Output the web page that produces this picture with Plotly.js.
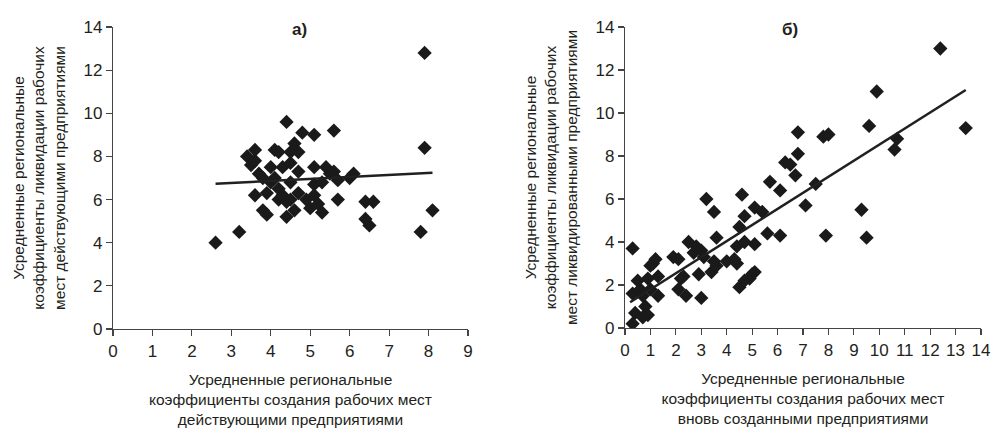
<!DOCTYPE html>
<html><head><meta charset="utf-8">
<script src="https://cdn.plot.ly/plotly-3.0.1.min.js"></script>
<style>body{margin:0;background:#fff}#c{width:992px;height:428px}</style>
</head><body><div id="c"></div>
<script>
// Panel a)
const aX = [2.6,3.2,3.4,3.5,3.6,3.6,3.6,3.7,3.8,3.9,3.8,3.9,4.0,4.0,4.1,4.2,4.1,4.2,4.2,4.3,4.3,4.4,4.4,4.4,4.5,4.5,4.5,4.5,4.6,4.6,4.7,4.7,4.7,4.8,4.9,5.0,5.1,5.1,5.1,5.1,5.2,5.3,5.3,5.4,5.5,5.6,5.6,5.7,5.7,6.0,6.1,6.4,6.4,6.5,6.6,7.8,7.9,7.9,8.1];
const aY = [4.0,4.5,8.0,7.6,8.3,7.8,6.2,7.2,5.5,5.3,7.0,6.3,7.5,6.8,8.3,8.2,7.0,6.5,6.0,7.5,6.2,9.6,5.9,5.2,8.2,7.7,6.8,6.0,8.6,5.5,8.2,7.3,6.3,9.1,6.0,5.6,9.0,7.5,6.7,6.2,5.8,5.4,6.8,7.5,7.2,9.2,7.3,6.0,6.9,7.0,7.2,5.9,5.1,4.8,5.9,4.5,12.8,8.4,5.5];
const aTrendX = [2.6, 8.1];
const aTrendY = [6.73, 7.24];
// Panel б)
const bX = [0.3,0.3,0.3,0.4,0.5,0.6,0.7,0.7,0.8,0.9,0.9,1.0,1.0,1.1,1.2,1.3,1.3,1.9,2.1,2.1,2.2,2.3,2.4,2.5,2.7,2.8,2.9,3.0,3.0,3.1,3.2,3.4,3.5,3.5,3.6,3.6,4.0,4.3,4.4,4.4,4.5,4.5,4.6,4.7,4.7,4.7,4.9,5.0,5.1,5.1,5.1,5.4,5.6,5.7,6.1,6.1,6.3,6.5,6.7,6.8,6.8,7.1,7.5,7.8,7.9,8.0,9.3,9.5,9.6,9.9,10.6,10.7,12.4,13.4];
const bY = [0.2,1.6,3.7,0.7,2.2,1.8,1.5,0.5,1.0,2.3,0.6,1.8,2.9,3.0,3.2,2.4,1.5,3.3,3.2,1.8,2.3,2.4,1.5,4.0,3.5,3.8,2.5,1.4,3.6,3.3,6.0,2.6,5.4,3.1,4.2,2.9,3.1,3.2,3.0,3.8,4.7,1.9,6.2,5.2,4.0,2.2,2.3,2.5,2.6,3.9,5.6,5.4,4.4,6.8,6.4,4.3,7.7,7.6,7.1,8.1,9.1,5.7,6.7,8.9,4.3,9.0,5.5,4.2,9.4,11.0,8.3,8.8,13.0,9.3];
const bTrendX = [0.2, 13.4];
const bTrendY = [1.2, 11.07];

const xTicksA = [0,1,2,3,4,5,6,7,8,9];
const xTicksB = [0,1,2,3,4,5,6,7,8,9,10,11,12,13,14];
const yTicks = [0,2,4,6,8,10,12,14];

const FONT = '"Liberation Sans","DejaVu Sans",sans-serif';
const INK = '#231f20';

const mk = {symbol:'diamond', size:11, color:'#1a1a1a', line:{width:0}};
const traces = [
  {x:aX, y:aY, type:'scatter', mode:'markers', marker:mk, xaxis:'x', yaxis:'y'},
  {x:aTrendX, y:aTrendY, type:'scatter', mode:'lines', line:{color:INK, width:2.5}, xaxis:'x', yaxis:'y'},
  {x:bX, y:bY, type:'scatter', mode:'markers', marker:mk, xaxis:'x2', yaxis:'y2'},
  {x:bTrendX, y:bTrendY, type:'scatter', mode:'lines', line:{color:INK, width:2.5}, xaxis:'x2', yaxis:'y2'}
];

const axBase = {showgrid:false, zeroline:false, showline:true, linecolor:'#444', linewidth:1.2,
  ticks:'outside', ticklen:6, tickwidth:1.2, tickcolor:'#444',
  tickfont:{family:FONT, size:17, color:INK}, fixedrange:true};
const TF = {family:FONT, size:15.5, color:INK};

const layout = {
  width:992, height:428, margin:{l:0,r:0,t:0,b:0},
  paper_bgcolor:'#fff', plot_bgcolor:'#fff', showlegend:false,
  font:{family:FONT, color:INK},
  xaxis: Object.assign({}, axBase, {domain:[113/992, 468/992], range:[0,9], tickvals:xTicksA, ticktext:xTicksA.map(String), anchor:'y',
    title:{text:'Усредненные региональные<br>коэффициенты создания рабочих мест<br>действующими предприятиями', font:TF, standoff:14}}),
  yaxis: Object.assign({}, axBase, {domain:[1-329/428, 1-27/428], range:[0,14], tickvals:yTicks, ticktext:yTicks.map(String), anchor:'x',
    title:{text:'Усредненные региональные<br>коэффициенты ликвидации рабочих<br>мест действующими предприятиями', font:TF, standoff:14}}),
  xaxis2: Object.assign({}, axBase, {domain:[625/992, 981/992], range:[0,14], tickvals:xTicksB, ticktext:xTicksB.map(String), anchor:'y2',
    title:{text:'Усредненные региональные<br>коэффициенты создания рабочих мест<br>вновь созданными предприятиями', font:TF, standoff:14}}),
  yaxis2: Object.assign({}, axBase, {domain:[1-328/428, 1-27/428], range:[0,14], tickvals:yTicks, ticktext:yTicks.map(String), anchor:'x2',
    title:{text:'Усредненные региональные<br>коэффициенты ликвидации рабочих<br>мест ликвидированными предприятиями', font:TF, standoff:14}}),
  annotations:[
    {text:'<b>а)</b>', xref:'paper', yref:'paper', x:290/992, y:1-18/428, showarrow:false, font:{family:FONT, size:17, color:INK}},
    {text:'<b>б)</b>', xref:'paper', yref:'paper', x:800/992, y:1-18/428, showarrow:false, font:{family:FONT, size:17, color:INK}}
  ]
};
Plotly.newPlot('c', traces, layout, {displayModeBar:false, staticPlot:true});
</script></body></html>
